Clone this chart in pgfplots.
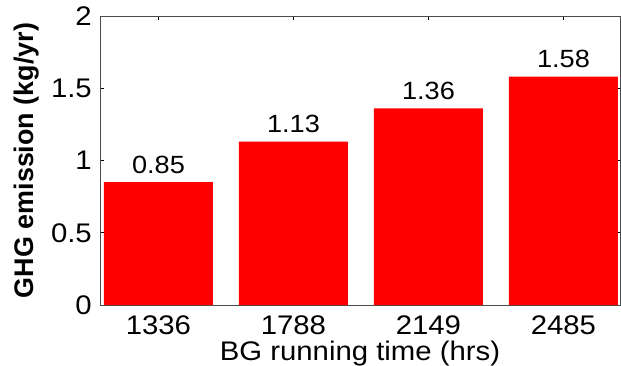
\documentclass[border=0pt]{standalone}
\usepackage{pgfplots}
\pgfplotsset{compat=1.18}
\usepackage{fontspec}
\setmainfont{Liberation Sans}
\newfontfamily\widesans[FakeStretch=1.09]{Liberation Sans}
\begin{document}
\begin{tikzpicture}
\begin{axis}[
    name=ax,
    scale only axis,
    width=520bp, height=289bp,
    ybar, bar width=0.807,
    xmin=0.567, xmax=4.419,
    ymin=0, ymax=2,
    ytick={0,0.5,1,1.5,2},
    xtick={1,2,3,4},
    xticklabels={1336,1788,2149,2485},
    /pgf/number format/assume math mode=true,
    tick align=inside,
    major tick length=4bp,
    tick style={black, line width=0.6pt},
    axis line style={black!70, line width=0.9pt},
    ticklabel style={font=\widesans\fontsize{27}{29}\selectfont, inner sep=0pt},
    xticklabel style={anchor=base, yshift=-29bp},
    yticklabel style={anchor=east, xshift=-8bp},
    xlabel={BG running time (hrs)},
    ylabel={\bfseries GHG emission (kg/yr)},
    label style={font=\fontsize{27}{29}\selectfont, inner sep=0pt},
    xlabel style={font=\widesans\fontsize{27}{29}\selectfont, at={(axis description cs:0.5,0)}, anchor=base, yshift=-55bp},
    ylabel style={at={(axis description cs:-0.142,0.5)}, anchor=center},
    nodes near coords,
    nodes near coords style={font=\widesans\fontsize{25}{27}\selectfont, black, anchor=base, inner sep=0pt, yshift=9bp},
    point meta=explicit symbolic,
]
\addplot[fill=red, draw=none] coordinates {
    (1,0.85) [0.85]
    (2,1.13) [1.13]
    (3,1.36) [1.36]
    (4,1.58) [1.58]
};
\end{axis}
\pgfresetboundingbox
\useasboundingbox ([shift={(-100bp,-61bp)}]ax.south west) rectangle ([shift={(1bp,16bp)}]ax.north east);
\end{tikzpicture}
\end{document}
